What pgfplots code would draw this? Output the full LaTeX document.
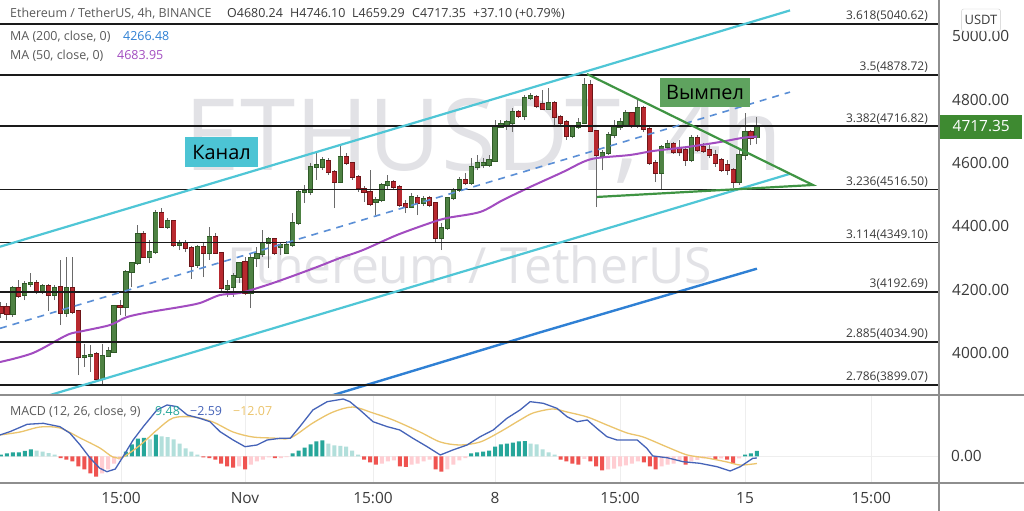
\documentclass[border=0pt]{standalone}
\usepackage{fontspec}
\setmainfont{Open Sans}
\usepackage{pgfplots}
\usepackage{pgfplotstable}
\pgfplotsset{compat=1.18}
\usepgfplotslibrary{fillbetween}
\definecolor{gbody}{HTML}{4E8243}
\definecolor{gedge}{HTML}{2F5A27}
\definecolor{rbody}{HTML}{B8292F}
\definecolor{redge}{HTML}{6E1518}
\definecolor{wick}{HTML}{6A6A6A}
\definecolor{fibc}{HTML}{1A1A1A}
\definecolor{fibt}{HTML}{3A3A3A}
\definecolor{chan}{HTML}{4FC6D6}
\definecolor{chanfill}{HTML}{E6E8F6}
\definecolor{midc}{HTML}{5B8FD6}
\definecolor{ma50}{HTML}{A24CC0}
\definecolor{ma200}{HTML}{2F80D4}
\definecolor{tri}{HTML}{3F9443}
\definecolor{wm}{HTML}{E2E2E6}
\definecolor{gridc}{HTML}{EEEEEE}
\definecolor{sepc}{HTML}{8E8E8E}
\definecolor{tickc}{HTML}{3B3B3B}
\definecolor{hdark}{HTML}{26A69A}
\definecolor{hlight}{HTML}{B2DFDB}
\definecolor{hred}{HTML}{EF5350}
\definecolor{hpink}{HTML}{FFCDD2}
\definecolor{macdc}{HTML}{4563B8}
\definecolor{sigc}{HTML}{EBC46C}
\definecolor{kanal}{HTML}{4CC4D4}
\definecolor{vympel}{HTML}{5FA35F}
\definecolor{pricebox}{HTML}{3E8A31}
\definecolor{legc}{HTML}{5A5A5A}
\definecolor{valc}{HTML}{3A3A3A}

\pgfplotstableread{
i o h l c
2 4123 4212 4114 4205
4 4183 4227 4167 4218
5 4218 4253 4208 4221
7 4193 4218 4186 4212
9 4183 4215 4167 4205
11 4126 4303 4114 4205
14 3987 4028 3956 3990
15 3990 4025 3940 3994
17 3918 4028 3902 3990
18 3990 4019 3987 4006
19 4003 4152 4000 4148
21 4145 4262 4117 4256
22 4256 4288 4208 4284
23 4284 4404 4278 4376
25 4303 4357 4284 4319
26 4319 4452 4313 4442
28 4398 4427 4392 4417
30 4341 4357 4325 4344
33 4278 4341 4269 4335
35 4316 4398 4294 4367
38 4202 4231 4177 4212
39 4208 4253 4177 4243
40 4240 4288 4221 4284
42 4190 4316 4142 4300
43 4300 4335 4272 4313
44 4313 4389 4303 4348
45 4348 4366 4269 4360
47 4335 4348 4310 4341
48 4316 4354 4313 4341
49 4341 4442 4335 4411
50 4411 4515 4404 4509
51 4509 4531 4474 4512
52 4509 4600 4499 4588
53 4588 4632 4547 4594
54 4588 4619 4578 4610
57 4540 4657 4537 4619
63 4477 4493 4436 4483
64 4483 4537 4477 4531
65 4531 4562 4515 4540
69 4461 4506 4458 4493
71 4474 4496 4464 4487
74 4363 4411 4325 4395
75 4395 4493 4389 4490
76 4490 4521 4483 4515
77 4515 4556 4509 4547
79 4537 4616 4531 4588
80 4588 4626 4578 4600
81 4594 4616 4584 4600
82 4594 4626 4588 4610
83 4607 4736 4603 4714
84 4714 4736 4711 4723
85 4720 4736 4705 4730
86 4727 4774 4698 4761
88 4749 4815 4736 4806
89 4806 4821 4799 4812
92 4771 4837 4768 4790
96 4686 4720 4679 4714
97 4714 4742 4708 4727
98 4727 4869 4724 4847
101 4622 4641 4578 4632
102 4632 4698 4626 4689
103 4689 4736 4679 4714
104 4714 4742 4705 4730
105 4717 4768 4714 4758
107 4717 4799 4711 4774
111 4569 4657 4515 4651
112 4651 4673 4641 4660
116 4610 4689 4603 4679
124 4540 4641 4531 4626
125 4626 4758 4610 4698
127 4680.24 4746.10 4659.29 4717.35
}\greentab

\pgfplotstableread{
i o h l c
0 4145 4161 4111 4126
1 4145 4158 4104 4123
3 4205 4231 4174 4180
6 4221 4231 4186 4193
8 4212 4218 4133 4183
10 4208 4294 4088 4126
12 4205 4303 4123 4130
13 4133 4136 3930 3987
16 3997 4003 3908 3918
20 4148 4167 4120 4145
24 4376 4385 4300 4303
27 4442 4458 4395 4398
29 4417 4420 4335 4341
31 4348 4357 4319 4332
32 4332 4338 4234 4275
34 4335 4348 4240 4316
36 4367 4379 4313 4316
37 4316 4319 4190 4205
41 4288 4303 4183 4190
46 4360 4363 4310 4316
55 4607 4616 4562 4572
56 4572 4578 4458 4540
58 4619 4632 4594 4600
59 4600 4603 4547 4556
60 4556 4562 4509 4521
61 4518 4528 4477 4509
62 4509 4578 4464 4471
66 4540 4547 4518 4524
67 4524 4531 4461 4468
68 4471 4483 4442 4461
70 4490 4499 4436 4474
72 4490 4496 4461 4468
73 4474 4477 4348 4363
78 4547 4569 4531 4537
87 4761 4768 4743 4749
90 4809 4815 4774 4780
91 4787 4831 4768 4771
93 4790 4796 4720 4746
94 4746 4752 4720 4727
95 4730 4736 4673 4686
99 4847 4863 4698 4701
100 4701 4705 4461 4626
106 4758 4761 4711 4717
108 4774 4780 4698 4708
109 4708 4714 4594 4600
110 4600 4610 4540 4569
113 4660 4667 4629 4635
114 4648 4673 4622 4635
115 4641 4648 4591 4610
117 4679 4689 4635 4641
118 4651 4663 4632 4638
119 4641 4657 4616 4626
120 4626 4641 4588 4600
121 4610 4616 4572 4578
122 4594 4610 4562 4578
123 4578 4584 4521 4540
126 4698 4705 4657 4679
}\redtab

\begin{document}
\begin{tikzpicture}
\fill[white] (0,0) rectangle (1024bp,-511bp);
% watermark
\node[anchor=base, text=wm, inner sep=0, font=\fontsize{100}{100}\selectfont] at (484bp,-170bp) {ETHUSDT, 4h};
\node[anchor=base, text=wm, inner sep=0, font=\fontsize{50}{50}\selectfont] at (470bp,-283bp) {Ethereum / TetherUS};

\begin{axis}[
  at={(0,0)}, anchor=north west, scale only axis,
  width=939bp, height=395bp,
  xmin=-0.168, xmax=157.59, ymin=3867.3, ymax=5115.3,
  axis line style={draw=none}, major tick length=0pt,
  xtick={20.16,40.99,62.5,83.0,104.0,125.0,146.2}, xticklabels={,,,,,,},
  ytick={4000,4200,4400,4600,4800,5000},
  yticklabel pos=right,
  yticklabel style={anchor=west, xshift=13bp, inner sep=0pt, font=\fontsize{15.5}{15.5}\selectfont, text=tickc,
    /pgf/number format/.cd, fixed, fixed zerofill, precision=2, 1000 sep={}, assume math mode=true},
  grid=major, major grid style={color=gridc, line width=0.8bp},
  clip bounding box=upper bound,
]
% channel fill
\addplot[name path=chup, draw=none] coordinates {(-0.168,4335.8) (132.56,5082.4)};
\addplot[name path=chlo, draw=none] coordinates {(-0.168,3819.9) (132.56,4566.2)};
\addplot[fill=chanfill, opacity=0.6, draw=none] fill between[of=chup and chlo];
% MA200
\addplot[ma200, line width=2.4bp] coordinates {(53.6,3854.6) (90.6,4065.4) (127,4266.48)};
% candles: wicks
\addplot[wick, line width=1bp, quiver={u=0, v=\thisrow{h}-\thisrow{l}}] table[x=i, y=l] {\greentab};
\addplot[wick, line width=1bp, quiver={u=0, v=\thisrow{h}-\thisrow{l}}] table[x=i, y=l] {\redtab};
% bodies (edge then fill)
\addplot[gedge, line width=5.2bp, quiver={u=0, v=\thisrow{c}-\thisrow{o}+5}] table[x=i, y expr=\thisrow{o}-2.5] {\greentab};
\addplot[gbody, line width=3.8bp, quiver={u=0, v=\thisrow{c}-\thisrow{o}}] table[x=i, y=o] {\greentab};
\addplot[redge, line width=5.2bp, quiver={u=0, v=\thisrow{c}-\thisrow{o}-5}] table[x=i, y expr=\thisrow{o}+2.5] {\redtab};
\addplot[rbody, line width=3.8bp, quiver={u=0, v=\thisrow{c}-\thisrow{o}}] table[x=i, y=o] {\redtab};
% MA50
\addplot[ma50, line width=2bp, smooth] coordinates {
(-0.17,3971.5) (5.38,4000.0) (11.09,4056.8) (13.78,4069.5) (18.31,4088.4) (21.17,4113.7)
(25.03,4129.5) (30.07,4145.3) (33.43,4158.0) (36.79,4183.2) (40.15,4189.6) (44.69,4214.8)
(48.55,4240.1) (53.09,4271.7) (56.96,4300.1) (60.82,4325.4) (66.53,4372.8) (72.08,4410.7)
(74.93,4426.5) (80.48,4445.5) (84.34,4483.4) (88.88,4524.4) (94.42,4571.9) (97.78,4603.5)
(100.13,4616.1) (105.68,4625.6) (109.54,4638.2) (115.26,4650.8) (120.80,4666.6) (124.66,4680.0) (127,4683.95)};
% fib levels
\pgfplotsinvokeforeach{5040.62,4878.72,4716.82,4516.50,4349.10,4192.69,4034.90,3899.07}{
  \addplot[fibc, line width=1.8bp] coordinates {(-1,#1) (160,#1)};
}
% channel lines
\addplot[chan, line width=2.2bp] coordinates {(-0.168,4335.8) (132.56,5082.4)};
\addplot[chan, line width=2.2bp] coordinates {(-0.168,3819.9) (132.56,4566.2)};
\addplot[midc, line width=1.6bp, dash pattern=on 7bp off 6bp] coordinates {(-0.168,4077.8) (132.56,4824.3)};
% pennant
\addplot[tri, line width=2.2bp] coordinates {(98.45,4881.5) (136.4,4530.8) (100.1,4493.0)};
% fib labels
\foreach \lv/\tx in {5040.62/3.618(5040.62),4878.72/3.5(4878.72),4716.82/3.382(4716.82),4516.50/3.236(4516.50),4349.10/3.114(4349.10),4192.69/3(4192.69),4034.90/2.885(4034.90),3899.07/2.786(3899.07)}{
  \edef\temp{\noexpand\node[anchor=south east, inner sep=0pt, yshift=2bp, text=fibt, font=\noexpand\fontsize{12}{12}\noexpand\selectfont] at (axis cs:155.74,\lv) {\tx};}
  \temp
}
\node[fill=kanal, text=black, inner sep=0pt, minimum width=73bp, minimum height=30bp, font=\fontsize{20}{20}\selectfont] at (axis cs:37.05,4635) {Канал};
\node[fill=vympel, text=black, inner sep=0pt, minimum width=90bp, minimum height=29bp, font=\fontsize{20}{20}\selectfont] at (axis cs:118.28,4823) {Вымпел};
\end{axis}

\begin{axis}[
  at={(0,-395bp)}, anchor=north west, scale only axis,
  width=939bp, height=88bp,
  xmin=-0.168, xmax=157.59, ymin=-45.7, ymax=106,
  axis line style={draw=none}, major tick length=0pt,
  xtick={20.16,40.99,62.5,83.0,104.0,125.0,146.2},
  xticklabels={15:00,Nov,15:00,8,15:00,15,15:00},
  xticklabel style={anchor=base, yshift=-20bp, inner sep=0pt, font=\fontsize{15.5}{15.5}\selectfont, text=tickc},
  ytick={0}, yticklabel pos=right,
  yticklabel style={anchor=west, xshift=12bp, inner sep=0pt, font=\fontsize{15.5}{15.5}\selectfont, text=tickc,
    /pgf/number format/.cd, fixed, fixed zerofill, precision=2, assume math mode=true},
  grid=major, major grid style={color=gridc, line width=0.8bp},
  clip bounding box=upper bound,
]
\addplot[ybar, bar width=4bp, bar shift=0pt, fill=hdark, draw=none] coordinates {(0,3.4)(1,5.2)(2,6.9)(3,6.9)(4,9.5)(5,12.1)(21,8.6)(22,20.7)(23,31.0)(24,31.9)(26,37.9)(49,5.2)(50,10.3)(51,15.5)(52,20.7)(53,25.9)(54,27.6)(79,5.2)(80,6.9)(81,8.6)(82,10.3)(83,17.2)(84,20.7)(85,22.4)(86,24.1)(87,25.9)(88,26.7)(125,3.4)(126,5.2)(127,9.48)};
\addplot[ybar, bar width=4bp, bar shift=0pt, fill=hlight, draw=none] coordinates {(6,10.3)(7,8.6)(8,6.0)(9,3.4)(25,29.3)(27,34.5)(28,33.6)(29,29.3)(30,22.4)(31,13.8)(32,8.6)(33,3.4)(55,22.4)(56,19.0)(57,18.1)(58,17.2)(59,10.3)(60,3.4)(89,22.4)(90,20.7)(91,12.1)(92,6.9)(93,3.4)};
\addplot[ybar, bar width=4bp, bar shift=0pt, fill=hred, draw=none] coordinates {(10,-2.6)(11,-5.2)(12,-8.6)(13,-17.2)(14,-22.4)(15,-29.3)(16,-34.5)(34,-1.7)(35,-2.6)(36,-5.2)(37,-12.1)(38,-17.2)(39,-19.0)(41,-22.4)(46,-2.6)(61,-5.2)(62,-10.3)(63,-13.8)(67,-17.2)(68,-18.1)(73,-22.4)(74,-25.9)(94,-5.2)(95,-8.6)(96,-12.1)(97,-13.8)(99,-8.6)(100,-17.2)(101,-24.1)(108,-10.3)(109,-17.2)(110,-22.4)(115,-13.8)(120,-5.2)(122,-5.2)(123,-12.1)};
\addplot[ybar, bar width=4bp, bar shift=0pt, fill=hpink, draw=none] coordinates {(17,-29.3)(18,-22.4)(19,-12.1)(20,-5.2)(40,-17.2)(42,-13.8)(43,-8.6)(44,-5.2)(45,-1.7)(47,-2.6)(48,-0.9)(64,-12.1)(65,-8.6)(66,-6.9)(69,-13.8)(70,-12.1)(71,-8.6)(72,-5.2)(75,-22.4)(76,-13.8)(77,-6.9)(78,-2.6)(98,-4.3)(102,-22.4)(103,-20.7)(104,-17.2)(105,-15.5)(106,-12.1)(107,-8.6)(111,-17.2)(112,-13.8)(113,-12.1)(114,-6.9)(116,-8.6)(117,-6.0)(118,-3.4)(119,-1.7)(121,-3.4)(124,-3.4)};
\addplot[sigc, line width=1.3bp, smooth] coordinates {(-0.17,37.1)(3.2,42.2)(6.6,50.9)(9.9,49.1)(13.3,31.9)(16.6,14.7)(18.8,-0.9)(20.5,-0.9)(23.4,19.8)(26.2,45.7)(28.9,66.4)(32.3,68.1)(35.6,59.5)(39.0,42.2)(42.3,33.6)(45.7,31.9)(48.6,31.9)(52.4,57.8)(55.8,76.7)(59.1,85.3)(62.5,75.0)(65.9,62.9)(70.4,42.2)(73.8,25.0)(77.1,19.8)(80.5,25.0)(83.8,42.2)(87.2,62.9)(89.4,75.0)(92.7,81.9)(95.1,76.7)(98.5,68.1)(101.8,54.3)(105.2,40.5)(107.9,33.6)(111.9,16.4)(115.3,2.6)(118.6,-2.6)(122.0,-9.5)(124.2,-14.7)(127,-12.07)};
\addplot[macdc, line width=1.3bp] coordinates {(-0.17,37.1)(1.5,42.8)(4.4,55.5)(7.1,57.2)(9.9,51.4)(11.6,40.0)(13.3,19.8)(15.0,-3.1)(16.6,-20.3)(17.8,-26.2)(19.2,-21.6)(20.5,-0.3)(22.2,28.4)(23.9,51.4)(26.2,80.2)(27.9,88.8)(29.6,85.9)(31.3,71.5)(33.4,65.9)(35.1,60.0)(36.8,42.8)(39.0,28.4)(41.0,16.9)(43.0,19.8)(44.7,28.4)(46.9,31.4)(48.6,31.4)(50.2,51.4)(52.4,80.2)(54.8,94.5)(57.5,99.1)(58.6,94.5)(60.3,80.2)(62.5,60.0)(64.9,51.4)(67.0,45.7)(69.2,31.4)(71.6,16.9)(73.8,2.6)(75.9,11.2)(78.3,19.8)(80.5,34.1)(82.7,45.7)(85.0,65.9)(87.2,80.2)(88.9,94.5)(91.1,91.7)(93.4,83.1)(95.1,68.6)(96.8,60.0)(98.5,62.9)(100.1,48.6)(101.8,34.1)(103.5,28.4)(106.9,28.4)(108.5,14.1)(109.5,0.9)(111.9,-2.1)(114.6,-9.0)(117.4,-11.7)(120.3,-17.6)(122.5,-25.0)(124.2,-17.6)(126.3,-3.1)(127,-2.59)};
\end{axis}

% separators
\draw[sepc, line width=1.2bp] (939bp,0) -- (939bp,-511bp);
\draw[sepc, line width=1.2bp] (0,-395bp) -- (1024bp,-395bp);
\draw[sepc, line width=1.2bp] (0,-483bp) -- (1024bp,-483bp);

% header legends
\begin{scope}[every node/.style={anchor=base west, inner sep=0pt, font=\fontsize{12.5}{12.5}\selectfont}]
\node[text=legc] at (10bp,-17bp) {Ethereum / TetherUS, 4h, BINANCE};
\node[text=valc] at (227bp,-17bp) {O4680.24};
\node[text=valc] at (290bp,-17bp) {H4746.10};
\node[text=valc] at (352bp,-17bp) {L4659.29};
\node[text=valc] at (412bp,-17bp) {C4717.35};
\node[text=valc] at (473bp,-17bp) {+37.10 (+0.79\%)};
\node[text=legc] at (10bp,-40bp) {MA (200, close, 0)};
\node[text=ma200] at (123bp,-40bp) {4266.48};
\node[text=legc] at (10bp,-59bp) {MA (50, close, 0)};
\node[text=ma50] at (117bp,-59bp) {4683.95};
\node[text=legc] at (10bp,-415bp) {MACD (12, 26, close, 9)};
\node[text=hdark] at (155bp,-415bp) {9.48};
\node[text=macdc] at (190bp,-415bp) {−2.59};
\node[text=sigc] at (233bp,-415bp) {−12.07};
\end{scope}

% right scale boxes
\node[draw=gray!40, fill=white, rounded corners=2bp, inner xsep=3bp, minimum height=22bp, text=tickc, font=\fontsize{13}{13}\selectfont] at (981bp,-20bp) {USDT};
\node[fill=pricebox, text=white, anchor=west, inner sep=0pt, minimum width=82bp, minimum height=24bp, font=\fontsize{15.5}{15.5}\selectfont] at (940bp,-126.5bp) {4717.35};
\pgfresetboundingbox
\path[use as bounding box] (0,0) rectangle (1024bp,-511bp);
\end{tikzpicture}
\end{document}
